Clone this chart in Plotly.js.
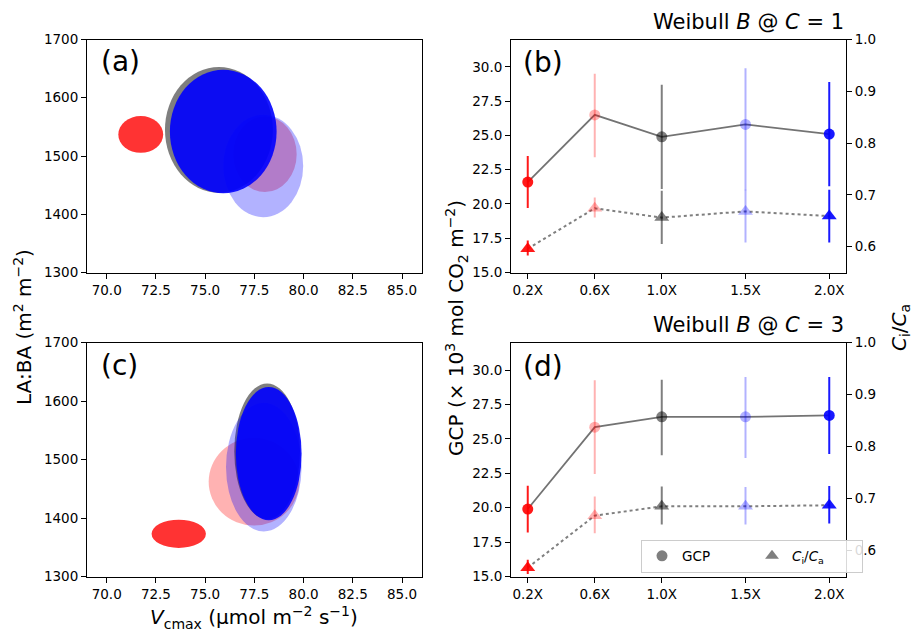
<!DOCTYPE html>
<html><head><meta charset="utf-8">
<script src="https://cdn.plot.ly/plotly-3.0.1.min.js"></script>
<style>html,body{margin:0;padding:0;background:#fff}</style>
</head><body><div id="chart" style="width:914px;height:632px"></div>
<script>
// ---------- data ----------
const levels = ['0.2X','0.6X','1.0X','1.5X','2.0X'];
const levelPos = [0.2, 0.6, 1.0, 1.5, 2.0];

// Panel (a): ellipse centres and half-widths (Vcmax, LA:BA)
const ellA_vcmax = [71.73, 78.04, 75.70, 77.95, 75.92];
const ellA_laba  = [1537, 1503, 1545, 1483, 1542];
const ellA_vcmaxHalf = [1.14, 1.61, 2.74, 2.03, 2.71];
const ellA_labaHalf  = [31.5, 65, 108, 88, 106];

// Panel (c)
const ellC_vcmax = [73.66, 77.48, 78.15, 77.98, 78.23];
const ellC_laba  = [1373, 1462, 1514, 1487, 1510];
const ellC_vcmaxHalf = [1.38, 2.30, 1.67, 1.92, 1.67];
const ellC_labaHalf  = [24.2, 75, 116, 110, 114];

// Panel (b): GCP and Ci/Ca with intervals
const gcpB    = [21.6, 26.5, 24.9, 25.8, 25.1];
const gcpB_hi = [23.5, 29.5, 28.7, 29.9, 28.9];
const gcpB_lo = [19.7, 23.4, 21.1, 21.0, 21.3];
const ciB     = [0.596, 0.674, 0.656, 0.668, 0.659];
const ciB_hi  = [0.612, 0.695, 0.708, 0.710, 0.710];
const ciB_lo  = [0.583, 0.656, 0.605, 0.608, 0.608];

// Panel (d)
const gcpD    = [19.9, 25.85, 26.6, 26.6, 26.7];
const gcpD_hi = [21.6, 29.25, 29.3, 29.5, 29.5];
const gcpD_lo = [18.2, 22.45, 23.8, 23.6, 23.9];
const ciD     = [0.567, 0.667, 0.685, 0.685, 0.687];
const ciD_hi  = [0.582, 0.704, 0.723, 0.722, 0.724];
const ciD_lo  = [0.555, 0.633, 0.650, 0.650, 0.652];

// ---------- styles ----------
const markColors = ['rgba(255,0,0,0.9)','rgba(255,0,0,0.3)','rgba(0,0,0,0.5)','rgba(0,0,255,0.3)','rgba(0,0,255,0.9)'];
const ellColors  = ['rgba(255,0,0,0.8)','rgba(255,0,0,0.3)','rgba(0,0,0,0.5)','rgba(0,0,255,0.3)','rgba(0,0,255,0.9)'];
const FONT = 'DejaVu Sans, Verdana, sans-serif';
const W = 914, H = 632;
const px = v => v / W, py = v => 1 - v / H;

const traces = [];
const shapes = [];

function addEllipses(cx, cy, hx, hy, xref, yref) {
  for (let i = 0; i < cx.length; i++) {
    shapes.push({type:'circle', xref, yref, layer:'above',
      x0: cx[i]-hx[i], x1: cx[i]+hx[i], y0: cy[i]-hy[i], y1: cy[i]+hy[i],
      fillcolor: ellColors[i], line:{width:0}});
  }
}
addEllipses(ellA_vcmax, ellA_laba, ellA_vcmaxHalf, ellA_labaHalf, 'x', 'y');
addEllipses(ellC_vcmax, ellC_laba, ellC_vcmaxHalf, ellC_labaHalf, 'x3', 'y3');

// dummy traces so left subplots exist
traces.push({x:[null], y:[null], xaxis:'x', yaxis:'y', showlegend:false, hoverinfo:'skip'});
traces.push({x:[null], y:[null], xaxis:'x3', yaxis:'y3', showlegend:false, hoverinfo:'skip'});

function addPanel(gcp, ghi, glo, ci, chi, clo, xa, yl, yr) {
  traces.push({x:levelPos, y:gcp, xaxis:xa, yaxis:yl, mode:'lines',
    line:{color:'rgba(0,0,0,0.55)', width:1.8}, showlegend:false, hoverinfo:'skip'});
  traces.push({x:levelPos, y:ci, xaxis:xa, yaxis:yr, mode:'lines',
    line:{color:'rgba(0,0,0,0.5)', width:2, dash:'dot'}, showlegend:false, hoverinfo:'skip'});
  for (let i = 0; i < levelPos.length; i++) {
    traces.push({x:[levelPos[i]], y:[gcp[i]], xaxis:xa, yaxis:yl, mode:'markers',
      marker:{symbol:'circle', size:11, color:markColors[i]},
      error_y:{type:'data', symmetric:false, array:[ghi[i]-gcp[i]], arrayminus:[gcp[i]-glo[i]],
        color:markColors[i], thickness:2, width:0},
      showlegend:false});
    traces.push({x:[levelPos[i]], y:[ci[i]], xaxis:xa, yaxis:yr, mode:'markers',
      marker:{symbol:'triangle-up', size:13, color:markColors[i]},
      error_y:{type:'data', symmetric:false, array:[chi[i]-ci[i]], arrayminus:[ci[i]-clo[i]],
        color:markColors[i], thickness:2, width:0},
      showlegend:false});
  }
}
addPanel(gcpB, gcpB_hi, gcpB_lo, ciB, ciB_hi, ciB_lo, 'x2', 'y2', 'y5');
addPanel(gcpD, gcpD_hi, gcpD_lo, ciD, ciD_hi, ciD_lo, 'x4', 'y4', 'y6');

// legend entries
traces.push({x:[null], y:[null], xaxis:'x4', yaxis:'y4', mode:'markers', name:'GCP',
  marker:{symbol:'circle', size:11, color:'rgba(0,0,0,0.5)'}, showlegend:true});
traces.push({x:[null], y:[null], xaxis:'x4', yaxis:'y4', mode:'markers', name:'<i>C</i><sub>i</sub>/<i>C</i><sub>a</sub>',
  marker:{symbol:'triangle-up', size:12, color:'rgba(0,0,0,0.5)'}, showlegend:true});

// ---------- axes ----------
const tickFont = {family:FONT, size:13.5, color:'#000'};
function ax(extra) {
  return Object.assign({showline:true, linecolor:'#000', linewidth:1, ticks:'outside', ticklen:5,
    tickwidth:1, tickcolor:'#000', showgrid:false, zeroline:false, tickfont:tickFont, fixedrange:true}, extra);
}
const xEllDom = [px(87), px(421.7)];
const xPtDom  = [px(511), px(846)];
const yTopDom = [py(272.5), py(39.5)];
const yBotDom = [py(576.5), py(342.5)];
const vTicks = [70, 72.5, 75, 77.5, 80, 82.5, 85];
const lTicks = [1300, 1400, 1500, 1600, 1700];
const gTicks = [15, 17.5, 20, 22.5, 25, 27.5, 30];
const cTicks = [0.6, 0.7, 0.8, 0.9, 1.0];

const layout = {
  width:W, height:H, margin:{l:0, r:0, t:0, b:0},
  paper_bgcolor:'#fff', plot_bgcolor:'rgba(0,0,0,0)',
  font:{family:FONT, size:13, color:'#000'},
  showlegend:true,
  legend:{x:px(641), y:py(539.5), xanchor:'left', yanchor:'top', orientation:'h',
    bgcolor:'rgba(255,255,255,0.85)', bordercolor:'#cccccc', borderwidth:1,
    font:{family:FONT, size:13.5, color:'#000'}, entrywidth:65, itemclick:false},
  xaxis:  ax({domain:xEllDom, anchor:'y', range:[69, 86], tickvals:vTicks, tickformat:'.1f', mirror:true}),
  yaxis:  ax({domain:yTopDom, anchor:'x', range:[1300, 1700], tickvals:lTicks, mirror:true}),
  xaxis3: ax({domain:xEllDom, anchor:'y3', range:[69, 86], tickvals:vTicks, tickformat:'.1f', mirror:true}),
  yaxis3: ax({domain:yBotDom, anchor:'x3', range:[1300, 1700], tickvals:lTicks, mirror:true}),
  xaxis2: ax({domain:xPtDom, anchor:'y2', range:[0.1, 2.1], tickvals:levelPos, ticktext:levels, mirror:true}),
  yaxis2: ax({domain:yTopDom, anchor:'x2', range:[15, 32], tickvals:gTicks, tickformat:'.1f'}),
  yaxis5: ax({overlaying:'y2', anchor:'x2', side:'right', range:[0.55, 1.0], tickvals:cTicks, tickformat:'.1f'}),
  xaxis4: ax({domain:xPtDom, anchor:'y4', range:[0.1, 2.1], tickvals:levelPos, ticktext:levels, mirror:true}),
  yaxis4: ax({domain:yBotDom, anchor:'x4', range:[15, 32], tickvals:gTicks, tickformat:'.1f'}),
  yaxis6: ax({overlaying:'y4', anchor:'x4', side:'right', range:[0.55, 1.0], tickvals:cTicks, tickformat:'.1f'}),
  shapes: shapes,
  annotations: [
    {text:'(a)', x:px(98.5), y:py(62), xref:'paper', yref:'paper', xanchor:'left', yanchor:'middle', showarrow:false, font:{family:FONT, size:28}},
    {text:'(b)', x:px(521), y:py(62.5), xref:'paper', yref:'paper', xanchor:'left', yanchor:'middle', showarrow:false, font:{family:FONT, size:28}},
    {text:'(c)', x:px(98.5), y:py(365), xref:'paper', yref:'paper', xanchor:'left', yanchor:'middle', showarrow:false, font:{family:FONT, size:28}},
    {text:'(d)', x:px(521), y:py(366), xref:'paper', yref:'paper', xanchor:'left', yanchor:'middle', showarrow:false, font:{family:FONT, size:28}},
    {text:'Weibull <i>B</i> @ <i>C</i> = 1', x:px(846), y:py(22), xref:'paper', yref:'paper', xanchor:'right', yanchor:'middle', showarrow:false, font:{family:FONT, size:21}},
    {text:'Weibull <i>B</i> @ <i>C</i> = 3', x:px(846), y:py(325), xref:'paper', yref:'paper', xanchor:'right', yanchor:'middle', showarrow:false, font:{family:FONT, size:21}},
    {text:'LA:BA (m<sup>2</sup> m<sup>−2</sup>)', x:px(23), y:py(327), xref:'paper', yref:'paper', xanchor:'center', yanchor:'middle', textangle:-90, showarrow:false, font:{family:FONT, size:20}},
    {text:'<i>V</i><sub>cmax</sub> (μmol m<sup>−2</sup> s<sup>−1</sup>)', x:px(254), y:py(617), xref:'paper', yref:'paper', xanchor:'center', yanchor:'middle', showarrow:false, font:{family:FONT, size:20}},
    {text:'GCP (× 10<sup>3</sup> mol CO<sub>2</sub> m<sup>−2</sup>)', x:px(456), y:py(328), xref:'paper', yref:'paper', xanchor:'center', yanchor:'middle', textangle:-90, showarrow:false, font:{family:FONT, size:20}},
    {text:'<i>C</i><sub>i</sub>/<i>C</i><sub>a</sub>', x:px(900), y:py(328), xref:'paper', yref:'paper', xanchor:'center', yanchor:'middle', textangle:-90, showarrow:false, font:{family:FONT, size:20}}
  ]
};

Plotly.newPlot('chart', traces, layout, {displayModeBar:false, staticPlot:true});
</script></body></html>
